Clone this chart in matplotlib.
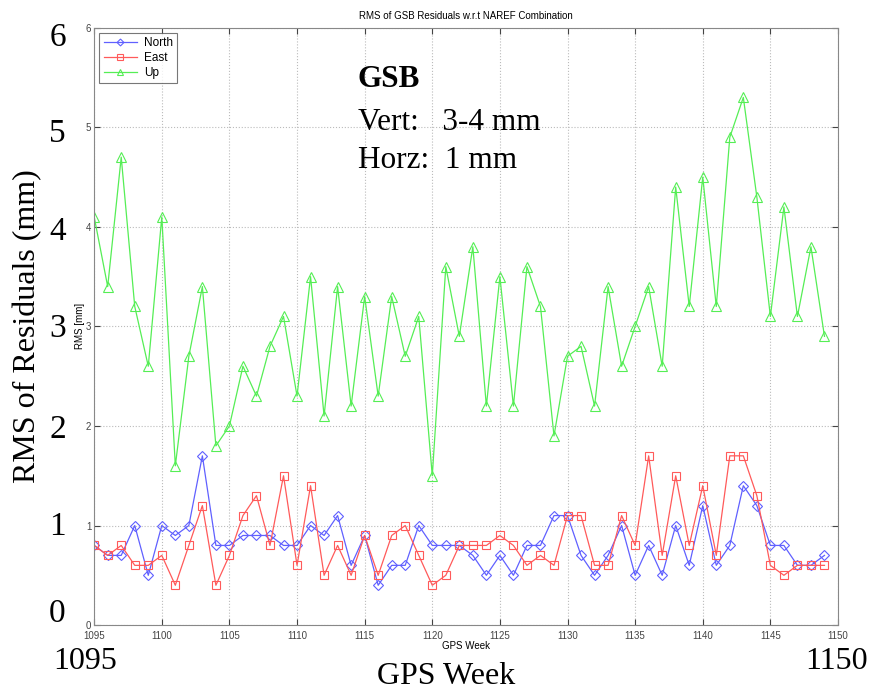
import numpy as np
import matplotlib
matplotlib.use('Agg')
import matplotlib.pyplot as plt

# --- data ---
weeks = list(range(1095, 1150))

north = [0.8, 0.7, 0.7, 1.0, 0.5, 1.0, 0.9, 1.0, 1.7, 0.8,
         0.8, 0.9, 0.9, 0.9, 0.8, 0.8, 1.0, 0.9, 1.1, 0.6,
         0.9, 0.4, 0.6, 0.6, 1.0, 0.8, 0.8, 0.8, 0.7, 0.5,
         0.7, 0.5, 0.8, 0.8, 1.1, 1.1, 0.7, 0.5, 0.7, 1.0,
         0.5, 0.8, 0.5, 1.0, 0.6, 1.2, 0.6, 0.8, 1.4, 1.2,
         0.8, 0.8, 0.6, 0.6, 0.7]

east = [0.8, 0.7, 0.8, 0.6, 0.6, 0.7, 0.4, 0.8, 1.2, 0.4,
        0.7, 1.1, 1.3, 0.8, 1.5, 0.6, 1.4, 0.5, 0.8, 0.5,
        0.9, 0.5, 0.9, 1.0, 0.7, 0.4, 0.5, 0.8, 0.8, 0.8,
        0.9, 0.8, 0.6, 0.7, 0.6, 1.1, 1.1, 0.6, 0.6, 1.1,
        0.8, 1.7, 0.7, 1.5, 0.8, 1.4, 0.7, 1.7, 1.7, 1.3,
        0.6, 0.5, 0.6, 0.6, 0.6]

up = [4.1, 3.4, 4.7, 3.2, 2.6, 4.1, 1.6, 2.7, 3.4, 1.8,
      2.0, 2.6, 2.3, 2.8, 3.1, 2.3, 3.5, 2.1, 3.4, 2.2,
      3.3, 2.3, 3.3, 2.7, 3.1, 1.5, 3.6, 2.9, 3.8, 2.2,
      3.5, 2.2, 3.6, 3.2, 1.9, 2.7, 2.8, 2.2, 3.4, 2.6,
      3.0, 3.4, 2.6, 4.4, 3.2, 4.5, 3.2, 4.9, 5.3, 4.3,
      3.1, 4.2, 3.1, 3.8, 2.9]

xticks = list(range(1095, 1151, 5))
yticks = [0, 1, 2, 3, 4, 5, 6]

serif = ['Liberation Serif', 'DejaVu Serif']
sans = ['Liberation Sans', 'DejaVu Sans']

fig = plt.figure(figsize=(8.72, 6.93), dpi=100)
ax = fig.add_axes([0.108, 0.098, 0.853, 0.862])

ax.plot(weeks, north, color='#6060ff', lw=0.9, marker='D', ms=5,
        mfc='none', mew=0.8, label='North')
ax.plot(weeks, east, color='#ff5a5a', lw=0.9, marker='s', ms=6,
        mfc='none', mew=0.8, label='East')
ax.plot(weeks, up, color='#55ee55', lw=0.9, marker='^', ms=7,
        mfc='none', mew=0.8, label='Up')

ax.set_xlim(1095, 1150)
ax.set_ylim(0, 6)
ax.set_xticks(xticks)
ax.set_yticks(yticks)
ax.tick_params(labelsize=7, length=4, direction='in', colors='#444444',
               pad=2, top=True, right=True)
ax.tick_params(axis='x', pad=4)
for lab in ax.get_xticklabels() + ax.get_yticklabels():
    lab.set_family(sans)
ax.grid(True, ls=':', color='#bbbbbb', lw=0.8)
for s in ax.spines.values():
    s.set_color('#888888')

ax.set_title('RMS of GSB Residuals w.r.t NAREF Combination',
             fontsize=7, family=sans, pad=6)
ax.set_xlabel('GPS Week', fontsize=7, family=sans, labelpad=0)
ax.set_ylabel('RMS [mm]', fontsize=7, family=sans, labelpad=1)

leg = ax.legend(loc='upper left', prop={'family': sans, 'size': 8.5},
                frameon=True, fancybox=False, edgecolor='#555555',
                handlelength=2.8, handletextpad=0.6, borderpad=0.35,
                labelspacing=0.25, borderaxespad=0.45, markerscale=0.7)
leg.get_frame().set_linewidth(0.8)

# --- big overlay annotations (slide text) ---
big = 24
for v, yf in zip(yticks, [0.12, 0.245, 0.385, 0.53, 0.671, 0.812, 0.95]):
    fig.text(0.066, yf - 0.005, str(v), fontsize=big, family=serif,
             ha='center', va='center')
fig.text(0.032, 0.53, 'RMS of Residuals (mm)', fontsize=23, family=serif,
         rotation=90, ha='center', va='center')
fig.text(0.098, 0.045, '1095', fontsize=23, family=serif,
         ha='center', va='center')
fig.text(0.959, 0.045, '1150', fontsize=23, family=serif,
         ha='center', va='center')
fig.text(0.512, 0.024, 'GPS Week', fontsize=23, family=serif,
         ha='center', va='center')

fig.text(0.41, 0.885, 'GSB', fontsize=22.5, family=serif, weight='bold',
         ha='left', va='center')
fig.text(0.41, 0.823, 'Vert:   3-4 mm', fontsize=22.5, family=serif,
         ha='left', va='center')
fig.text(0.41, 0.769, 'Horz:  1 mm', fontsize=22.5, family=serif,
         ha='left', va='center')

fig.savefig('out.png', dpi=100)
